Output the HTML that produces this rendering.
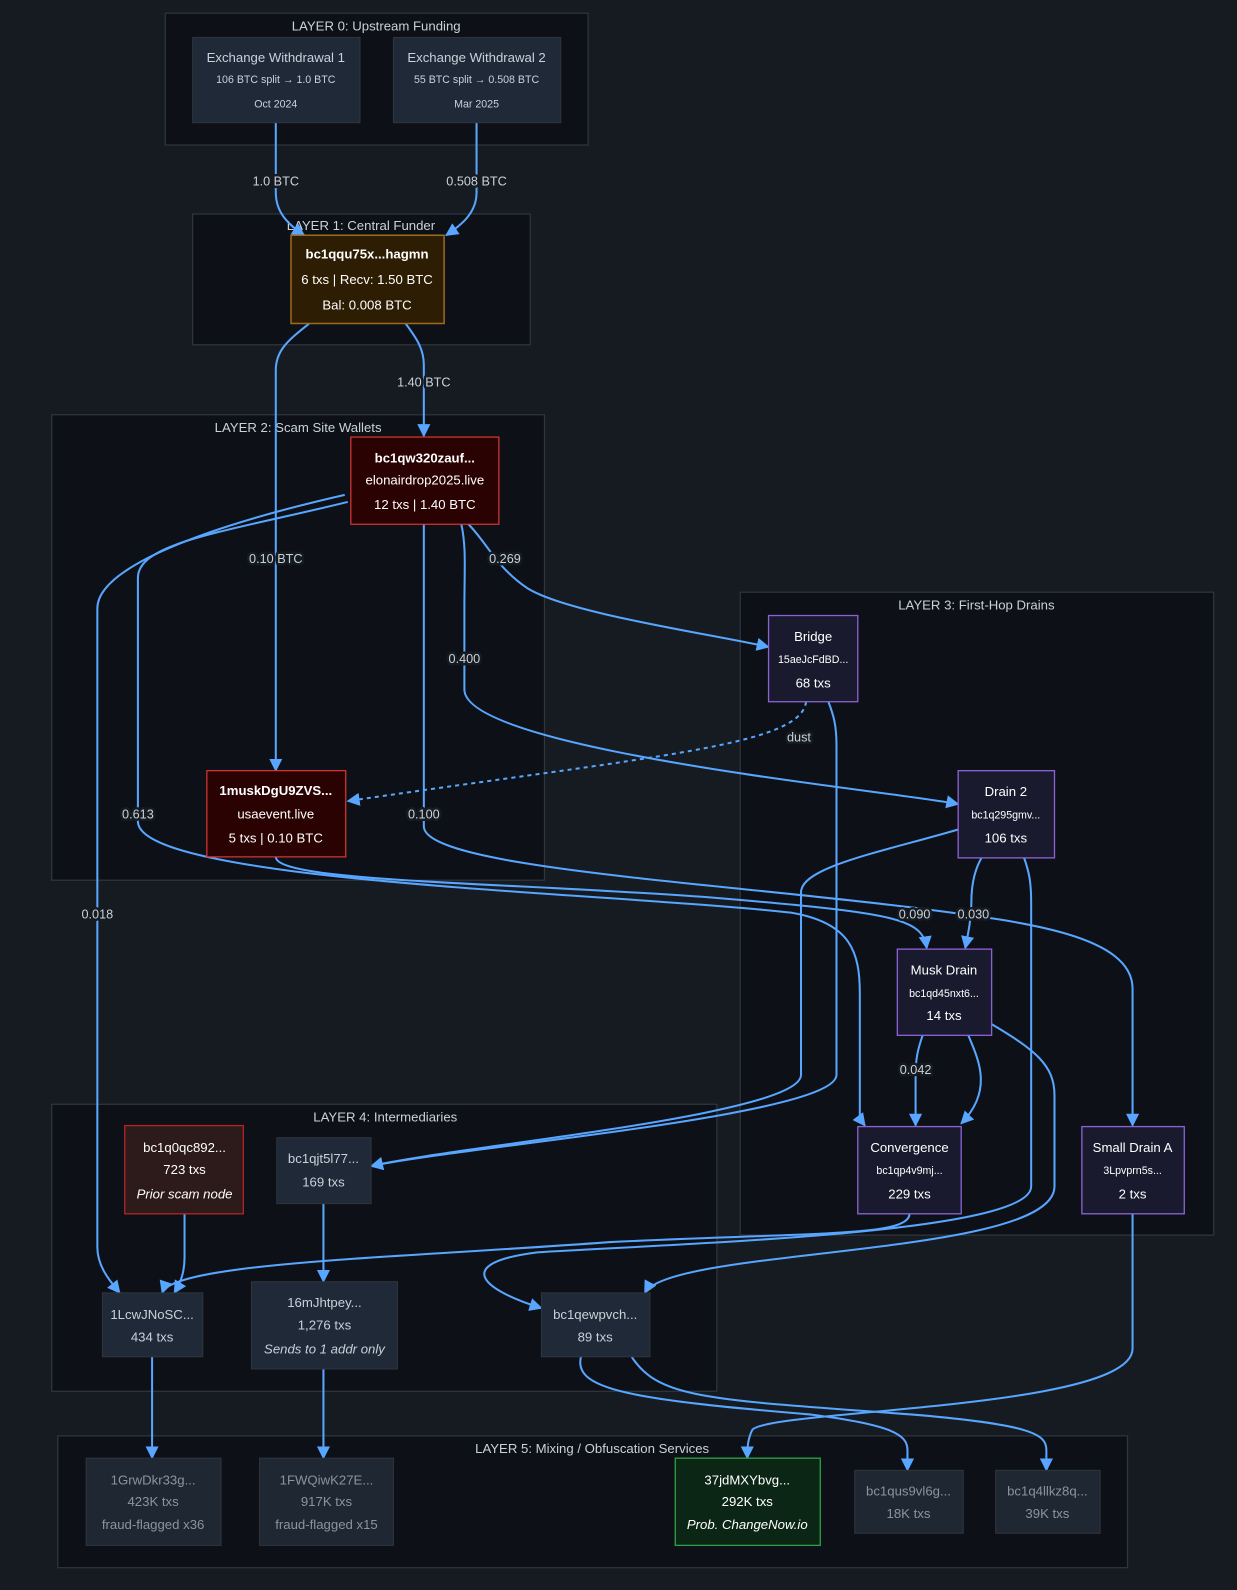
<!DOCTYPE html>
<html><head><meta charset="utf-8"><style>
html,body{margin:0;padding:0;background:#161b22;}
svg{display:block;}
text{font-family:"Liberation Sans","DejaVu Sans",sans-serif;fill:#c9d1d9;text-anchor:middle;}
.t{font-size:13px;fill:#c9d1d9;}
.s{font-size:10.5px;}
.b{font-weight:bold;fill:#fff;}
.i{font-style:italic;}
.g{fill:#8b949e;}
.w{fill:#fff;}
.cl{fill:#0d1117;stroke:#30363d;stroke-width:1.2;}
.e{fill:none;stroke:#58a6ff;stroke-width:2;marker-end:url(#ar);}
.lb{font-size:12.5px;fill:#c9d1d9;paint-order:stroke;stroke:#161b22;stroke-width:5px;stroke-linejoin:round;}
</style></head><body>
<svg width="1237" height="1590" viewBox="0 0 1220 1568" preserveAspectRatio="none" xmlns="http://www.w3.org/2000/svg">
<defs><marker id="ar" viewBox="0 0 10 10" refX="9" refY="5" markerWidth="6" markerHeight="6" orient="auto-start-reverse" markerUnits="userSpaceOnUse" ><path d="M0,0 L10,5 L0,10 z" fill="#58a6ff"/></marker>
<marker id="ar2" viewBox="0 0 10 10" refX="9" refY="5" markerWidth="13" markerHeight="13" orient="auto" markerUnits="userSpaceOnUse"><path d="M0,0 L10,5 L0,10 z" fill="#58a6ff"/></marker>
</defs>
<style>.e{marker-end:url(#ar2);}</style>
<rect width="1220" height="1568" fill="#161b22"/>

<!-- clusters -->
<rect class="cl" x="163" y="13" width="417" height="130"/>
<text class="t" x="371" y="30">LAYER 0: Upstream Funding</text>
<rect class="cl" x="190" y="211" width="333" height="129"/>
<rect class="cl" x="51" y="409" width="486" height="459"/>
<rect class="cl" x="730" y="584" width="467" height="634"/>
<rect class="cl" x="51" y="1089" width="656" height="283"/>
<rect class="cl" x="57" y="1416" width="1055" height="130"/>
<text class="t" x="356" y="227">LAYER 1: Central Funder</text>
<text class="t" x="294" y="426">LAYER 2: Scam Site Wallets</text>
<text class="t" x="963" y="601">LAYER 3: First-Hop Drains</text>
<text class="t" x="380" y="1106">LAYER 4: Intermediaries</text>
<text class="t" x="584" y="1433">LAYER 5: Mixing / Obfuscation Services</text>

<!-- edges -->
<path class="e" d="M272,121 L272,190 C272,210 285,222 300,232"/>
<path class="e" d="M470,121 L470,190 C470,210 455,222 440,232"/>
<path class="e" d="M305,319 C285,335 272,345 272,365 L272,760"/>
<path class="e" d="M400,319 C412,335 418,345 418,360 L418,430"/>
<path class="e" d="M340,488 C200,520 96,560 96,600 L96,1230 C96,1250 110,1265 118,1275"/>
<path class="e" d="M343,495 C220,525 136,535 136,570 L136,810 C136,870 600,880 780,900 C840,910 848,940 848,980 L848,1100 C848,1103 850,1106 853,1110"/>
<path class="e" d="M418,517 L418,815 C418,855 700,870 900,895 C1000,908 1117,920 1117,975 L1117,1110"/>
<path class="e" d="M272,845 C272,870 500,870 700,885 C880,900 910,905 914,935"/>
<path class="e" d="M455,517 C460,540 458,560 458,600 L458,680 C458,740 880,780 945,793"/>
<path class="e" d="M462,517 C480,535 490,560 520,580 C560,605 700,625 758,638"/>
<path d="M795,692 C790,735 650,745 343,790" fill="none" stroke="#58a6ff" stroke-width="2" stroke-dasharray="4,4" marker-end="url(#ar2)"/>
<path class="e" d="M817,692 C822,705 825,715 825,735 L825,1060 C825,1100 460,1130 366,1150"/>
<path class="e" d="M945,818 C870,840 790,855 790,880 L790,1060 C790,1100 450,1130 366,1150"/>
<path class="e" d="M968,846 C960,860 958,875 958,890 C958,905 955,920 952,935"/>
<path class="e" d="M1010,846 C1015,860 1017,870 1017,890 L1017,1170 C1017,1215 700,1225 530,1235 C450,1245 470,1270 534,1290"/>
<path class="e" d="M978,1010 C1020,1035 1040,1050 1040,1080 L1040,1170 C1040,1240 660,1230 636,1275"/>
<path class="e" d="M910,1021 C905,1035 903,1045 903,1060 L903,1110"/>
<path class="e" d="M955,1021 C965,1045 980,1075 948,1108"/>
<path class="e" d="M897,1197 C897,1220 800,1215 600,1225 C400,1240 170,1245 160,1275"/>
<path class="e" d="M182,1197 L182,1240 C182,1255 178,1265 172,1275"/>
<path class="e" d="M319,1187 L319,1264"/>
<path class="e" d="M150,1338 L150,1438"/>
<path class="e" d="M319,1350 L319,1438"/>
<path class="e" d="M573,1338 C565,1370 620,1380 800,1395 C880,1405 895,1415 895,1430 L895,1450"/>
<path class="e" d="M623,1338 C650,1380 700,1380 900,1395 C1020,1405 1032,1415 1032,1430 L1032,1450"/>
<path class="e" d="M1117,1197 L1117,1330 C1117,1390 760,1390 742,1410 C738,1418 737,1425 737,1438"/>

<!-- edge labels -->
<text class="lb" x="272" y="183">1.0 BTC</text>
<text class="lb" x="470" y="183">0.508 BTC</text>
<text class="lb" x="418" y="381">1.40 BTC</text>
<text class="lb" x="272" y="555">0.10 BTC</text>
<text class="lb" x="498" y="555">0.269</text>
<text class="lb" x="458" y="654">0.400</text>
<text class="lb" x="788" y="731">dust</text>
<text class="lb" x="136" y="807">0.613</text>
<text class="lb" x="418" y="807">0.100</text>
<text class="lb" x="96" y="906">0.018</text>
<text class="lb" x="902" y="906">0.090</text>
<text class="lb" x="960" y="906">0.030</text>
<text class="lb" x="903" y="1059">0.042</text>

<!-- Layer 0 nodes -->
<rect x="190" y="37" width="165" height="84" fill="#1f2937" stroke="#30363d"/>
<text class="t" x="272" y="61">Exchange Withdrawal 1</text>
<text class="s" x="272" y="82">106 BTC split → 1.0 BTC</text>
<text class="s" x="272" y="106">Oct 2024</text>
<rect x="388" y="37" width="165" height="84" fill="#1f2937" stroke="#30363d"/>
<text class="t" x="470" y="61">Exchange Withdrawal 2</text>
<text class="s" x="470" y="82">55 BTC split → 0.508 BTC</text>
<text class="s" x="470" y="106">Mar 2025</text>

<!-- Layer 1 -->
<rect x="287" y="232" width="151" height="87" fill="#2d1d03" stroke="#9e6a1d" stroke-width="1.5"/>
<text class="t b" x="362" y="255">bc1qqu75x...hagmn</text>
<text class="t w" x="362" y="280">6 txs | Recv: 1.50 BTC</text>
<text class="t w" x="362" y="305">Bal: 0.008 BTC</text>

<!-- Layer 2 -->
<rect x="346" y="431" width="146" height="86" fill="#2b0202" stroke="#da3633" stroke-width="1.2"/>
<text class="t b" x="419" y="456">bc1qw320zauf...</text>
<text class="t w" x="419" y="478">elonairdrop2025.live</text>
<text class="t w" x="419" y="502">12 txs | 1.40 BTC</text>
<rect x="204" y="760" width="137" height="85" fill="#2b0202" stroke="#da3633" stroke-width="1.2"/>
<text class="t b" x="272" y="784">1muskDgU9ZVS...</text>
<text class="t w" x="272" y="807">usaevent.live</text>
<text class="t w" x="272" y="831">5 txs | 0.10 BTC</text>

<!-- Layer 3 -->
<g fill="#1a1a2e" stroke="#8b62d6" stroke-width="1.3">
<rect x="758" y="607" width="88" height="85"/>
<rect x="945" y="760" width="95" height="86"/>
<rect x="885" y="936" width="93" height="85"/>
<rect x="846" y="1111" width="102" height="86"/>
<rect x="1067" y="1111" width="101" height="86"/>
</g>
<text class="t w" x="802" y="632">Bridge</text><text class="s w" x="802" y="654">15aeJcFdBD...</text><text class="t w" x="802" y="678">68 txs</text>
<text class="t w" x="992" y="785">Drain 2</text><text class="s w" x="992" y="807">bc1q295gmv...</text><text class="t w" x="992" y="831">106 txs</text>
<text class="t w" x="931" y="961">Musk Drain</text><text class="s w" x="931" y="983">bc1qd45nxt6...</text><text class="t w" x="931" y="1006">14 txs</text>
<text class="t w" x="897" y="1136">Convergence</text><text class="s w" x="897" y="1158">bc1qp4v9mj...</text><text class="t w" x="897" y="1182">229 txs</text>
<text class="t w" x="1117" y="1136">Small Drain A</text><text class="s w" x="1117" y="1158">3Lpvprn5s...</text><text class="t w" x="1117" y="1182">2 txs</text>

<!-- Layer 4 -->
<rect x="123" y="1110" width="117" height="87" fill="#2d1a1a" stroke="#b62324" stroke-width="1.3"/>
<text class="t w" x="182" y="1136">bc1q0qc892...</text><text class="t w" x="182" y="1158">723 txs</text><text class="t w i" x="182" y="1182">Prior scam node</text>
<g fill="#1f2937" stroke="#30363d">
<rect x="273" y="1122" width="93" height="65"/>
<rect x="101" y="1275" width="99" height="63"/>
<rect x="248" y="1264" width="144" height="86"/>
<rect x="534" y="1275" width="107" height="63"/>
</g>
<text class="t" x="319" y="1147">bc1qjt5l77...</text><text class="t" x="319" y="1170">169 txs</text>
<text class="t" x="150" y="1301">1LcwJNoSC...</text><text class="t" x="150" y="1323">434 txs</text>
<text class="t" x="320" y="1289">16mJhtpey...</text><text class="t" x="320" y="1311">1,276 txs</text><text class="t i" x="320" y="1335">Sends to 1 addr only</text>
<text class="t" x="587" y="1301">bc1qewpvch...</text><text class="t" x="587" y="1323">89 txs</text>

<!-- Layer 5 -->
<g fill="#1f2733" stroke="#30363d">
<rect x="85" y="1438" width="133" height="86"/>
<rect x="256" y="1438" width="132" height="86"/>
<rect x="843" y="1450" width="107" height="62"/>
<rect x="982" y="1450" width="103" height="62"/>
</g>
<rect x="666" y="1438" width="143" height="86" fill="#0c2616" stroke="#2ea043" stroke-width="1.3"/>
<text class="t g" x="151" y="1464">1GrwDkr33g...</text><text class="t g" x="151" y="1485">423K txs</text><text class="t g" x="151" y="1508">fraud-flagged x36</text>
<text class="t g" x="322" y="1464">1FWQiwK27E...</text><text class="t g" x="322" y="1485">917K txs</text><text class="t g" x="322" y="1508">fraud-flagged x15</text>
<text class="t w" x="737" y="1464">37jdMXYbvg...</text><text class="t w" x="737" y="1485">292K txs</text><text class="t w i" x="737" y="1508">Prob. ChangeNow.io</text>
<text class="t g" x="896" y="1475">bc1qus9vl6g...</text><text class="t g" x="896" y="1497">18K txs</text>
<text class="t g" x="1033" y="1475">bc1q4llkz8q...</text><text class="t g" x="1033" y="1497">39K txs</text>
</svg>
</body></html>
